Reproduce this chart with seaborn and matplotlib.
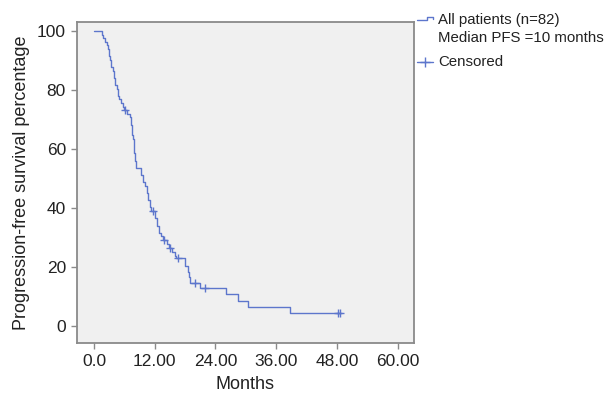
"""Kaplan-Meier style progression-free survival curve"""

import numpy as np
import pandas as pd
import matplotlib
matplotlib.use("Agg")
import matplotlib.pyplot as plt
from matplotlib.lines import Line2D
import seaborn as sns

# Step times (months) and survival (%) after each drop
event_months = [1.5, 1.8, 2.2, 2.5, 2.8, 2.9, 3.1, 3.4, 3.7, 4.0, 4.2, 4.5, 4.7,
                5.0, 5.4, 5.8, 5.9, 6.6, 7.1, 7.3, 7.45, 7.8, 7.9, 8.1, 8.4,
                9.2, 9.6, 10.1, 10.4, 10.7, 11.0, 11.3, 12.0, 12.4, 12.8, 13.3,
                13.6, 14.4, 14.8, 15.5, 16.0, 16.2, 18.0, 18.6, 18.8, 19.0,
                20.9, 26.0, 28.4, 30.5, 38.7]
survival_pct = [98.8, 97.6, 96.3, 95.1, 93.9, 91.5, 90.2, 87.8, 86.6, 84.1,
                81.7, 80.5, 78.0, 76.8, 75.6, 74.4, 73.2, 72.0, 70.7, 68.3,
                64.6, 63.4, 58.5, 56.1, 53.6, 51.2, 48.8, 47.6, 45.1, 42.7,
                40.2, 38.9, 36.5, 34.0, 31.6, 30.4, 29.1, 27.8, 26.5, 25.2,
                23.9, 22.9, 20.5, 18.2, 16.5, 14.6, 12.8, 10.7, 8.5, 6.4, 4.3]
censor_months = [6.1, 11.6, 13.8, 15.0, 16.6, 19.9, 21.9, 48.2, 48.6]
last_followup = 48.6

x_ticks = [0, 12, 24, 36, 48, 60]
x_ticklabels = ["0.0", "12.00", "24.00", "36.00", "48.00", "60.00"]
y_ticks = [0, 20, 40, 60, 80, 100]
legend_labels = ["All patients (n=82)", "Median PFS =10 months", "Censored"]

curve = pd.DataFrame({
    "months": [0.0] + event_months + [last_followup],
    "pct": [100.0] + survival_pct + [survival_pct[-1]],
})

# censor marks sit on the step function
steps_x = np.array([0.0] + event_months)
steps_y = np.array([100.0] + survival_pct)
idx = np.searchsorted(steps_x, censor_months, side="right") - 1
censored = pd.DataFrame({"months": censor_months, "pct": steps_y[idx]})

sns.set_style("white")
plt.rcParams["font.family"] = ["Liberation Sans", "DejaVu Sans"]

blue = "#5d76cc"
grey = "#8a8a8a"
ink = "#222222"

fig = plt.figure(figsize=(6.14, 3.96), dpi=100)
ax = fig.add_axes([0.1254, 0.1338, 0.5488, 0.8106])
ax.set_facecolor("#f0f0f0")

sns.lineplot(data=curve, x="months", y="pct", ax=ax, color=blue, linewidth=1.0,
             drawstyle="steps-post", estimator=None, sort=False)
sns.scatterplot(data=censored, x="months", y="pct", ax=ax, color=blue,
                marker="+", s=40, linewidth=1.0)

ax.set_xlim(-3.36, 63.24)
ax.set_ylim(-5.76, 103.05)
ax.set_xticks(x_ticks)
ax.set_xticklabels(x_ticklabels)
ax.set_yticks(y_ticks)
ax.tick_params(axis="both", direction="out", length=4, width=1.0, color=grey,
               labelsize=12.5, labelcolor=ink, pad=4, bottom=True, left=True)
for s in ax.spines.values():
    s.set_color(grey)
    s.set_linewidth(1.3)

ax.set_xlabel("Months", fontsize=13, color=ink, labelpad=5)
ax.set_ylabel("Progression-free survival percentage", fontsize=13,
              color=ink, labelpad=5)

# legend drawn by hand in figure pixels (SPSS layout)
W, H = 614.0, 396.0
def fx(px):
    return px / W
def fy(py):
    return 1 - py / H

step_glyph = Line2D([fx(417), fx(427), fx(427), fx(433), fx(433)],
                    [fy(19.5), fy(19.5), fy(16.5), fy(16.5), fy(18.5)],
                    transform=fig.transFigure, color=blue, linewidth=1.0)
cens_glyph = Line2D([fx(417), fx(433)], [fy(62), fy(62)],
                    transform=fig.transFigure, color=blue, linewidth=1.0)
cens_mark = Line2D([fx(425)], [fy(62)], transform=fig.transFigure, color=blue,
                   marker="+", markersize=7, markeredgewidth=1.0)
fig.add_artist(step_glyph)
fig.add_artist(cens_glyph)
fig.add_artist(cens_mark)
for label, py in zip(legend_labels, [20, 37.5, 62]):
    fig.text(fx(438), fy(py), label, fontsize=10.8, color=ink, va="center",
             ha="left")

fig.savefig("out.png", dpi=100)
